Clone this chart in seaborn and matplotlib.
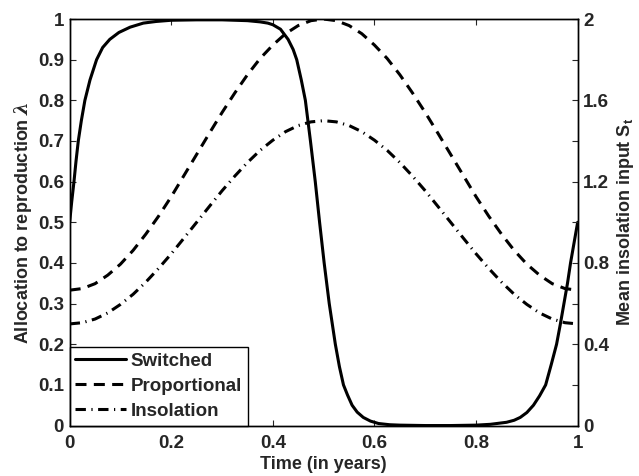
import matplotlib
matplotlib.use("Agg")
import matplotlib.pyplot as plt
import seaborn as sns

# values
t_switched = [0.0, 0.004, 0.0085, 0.0125, 0.017, 0.023, 0.030, 0.040, 0.053, 0.065,
              0.079, 0.097, 0.119, 0.145, 0.17, 0.20, 0.25, 0.30, 0.35, 0.375,
              0.39, 0.40, 0.415, 0.43, 0.44, 0.447, 0.456, 0.464, 0.474, 0.4835,
              0.492, 0.501, 0.511, 0.523, 0.531, 0.539, 0.547, 0.556, 0.566, 0.578,
              0.592, 0.608, 0.63, 0.65, 0.70, 0.75, 0.80, 0.828, 0.86, 0.875,
              0.887, 0.900, 0.913, 0.925, 0.937, 0.948, 0.9585, 0.966, 0.973, 0.980,
              0.986, 0.993, 1.0]
switched = [0.50, 0.55, 0.60, 0.65, 0.70, 0.75, 0.80, 0.85, 0.90, 0.93,
            0.95, 0.967, 0.98, 0.99, 0.994, 0.997, 0.998, 0.998, 0.996, 0.993,
            0.990, 0.986, 0.975, 0.95, 0.925, 0.90, 0.85, 0.80, 0.70, 0.60,
            0.50, 0.40, 0.30, 0.20, 0.145, 0.10, 0.075, 0.05, 0.033, 0.02,
            0.011, 0.005, 0.002, 0.001, 0.0, 0.0, 0.001, 0.003, 0.008, 0.013,
            0.02, 0.032, 0.05, 0.073, 0.10, 0.15, 0.20, 0.25, 0.30, 0.35,
            0.40, 0.45, 0.50]

t_smooth = [0.0, 0.025, 0.05, 0.075, 0.10, 0.125, 0.15, 0.175, 0.20, 0.225,
            0.25, 0.275, 0.30, 0.325, 0.35, 0.375, 0.40, 0.425, 0.45, 0.475,
            0.50, 0.525, 0.55, 0.575, 0.60, 0.625, 0.65, 0.675, 0.70, 0.725,
            0.75, 0.775, 0.80, 0.825, 0.85, 0.875, 0.90, 0.925, 0.95, 0.975, 1.0]
proportional = [0.333, 0.337, 0.349, 0.370, 0.397, 0.431, 0.471, 0.515, 0.563, 0.615,
                0.667, 0.719, 0.770, 0.818, 0.863, 0.903, 0.936, 0.964, 0.984, 0.996,
                1.000, 0.996, 0.984, 0.964, 0.936, 0.903, 0.863, 0.818, 0.770, 0.719,
                0.667, 0.615, 0.563, 0.515, 0.471, 0.431, 0.397, 0.370, 0.349, 0.337, 0.333]
insolation = [0.500, 0.506, 0.524, 0.554, 0.596, 0.646, 0.706, 0.773, 0.845, 0.922,
              1.000, 1.078, 1.155, 1.227, 1.294, 1.354, 1.404, 1.446, 1.476, 1.494,
              1.500, 1.494, 1.476, 1.446, 1.404, 1.354, 1.294, 1.227, 1.155, 1.078,
              1.000, 0.922, 0.845, 0.773, 0.706, 0.646, 0.596, 0.554, 0.524, 0.506, 0.500]

left_ticks = [0, 0.1, 0.2, 0.3, 0.4, 0.5, 0.6, 0.7, 0.8, 0.9, 1]
left_labels = ["0", "0.1", "0.2", "0.3", "0.4", "0.5", "0.6", "0.7", "0.8", "0.9", "1"]
right_ticks = [0, 0.2, 0.4, 0.6, 0.8, 1.0, 1.2, 1.4, 1.6, 1.8, 2.0]
right_labels = ["0", "", "0.4", "", "0.8", "", "1.2", "", "1.6", "", "2"]
x_ticks = [0, 0.2, 0.4, 0.6, 0.8, 1]
x_labels = ["0", "0.2", "0.4", "0.6", "0.8", "1"]

sns.set_style("ticks")
plt.rcParams["font.family"] = ["Liberation Sans", "DejaVu Sans"]
plt.rcParams["font.weight"] = "bold"
plt.rcParams["mathtext.fontset"] = "custom"
plt.rcParams["mathtext.rm"] = "Liberation Sans"
plt.rcParams["mathtext.bf"] = "Liberation Sans:bold"
plt.rcParams["mathtext.it"] = "DejaVu Serif:italic"
plt.rcParams["axes.linewidth"] = 1.0
plt.rcParams["xtick.direction"] = "in"
plt.rcParams["ytick.direction"] = "in"

fig = plt.figure(figsize=(6.39, 4.76), dpi=100)
ax = fig.add_axes([0.109, 0.106, 0.795, 0.854])
ax2 = ax.twinx()

sns.lineplot(x=t_switched, y=switched, ax=ax, color="black", lw=2.2,
             sort=False, label="Switched")
sns.lineplot(x=t_smooth, y=proportional, ax=ax, color="black", lw=2.2,
             sort=False, linestyle=(0, (3.6, 2.4)), label="Proportional")
sns.lineplot(x=t_smooth, y=insolation, ax=ax2, color="black", lw=2.2,
             sort=False, linestyle=(0, (3.4, 1.8, 0.4, 1.8)), label="Insolation")

ax.set_xlim(0, 1)
ax.set_ylim(0, 1)
ax2.set_ylim(0, 2)

ax.set_xticks(x_ticks)
ax.set_xticklabels(x_labels)
ax.set_yticks(left_ticks)
ax.set_yticklabels(left_labels)
ax2.set_yticks(right_ticks)
ax2.set_yticklabels(right_labels)

ax.tick_params(axis="x", labelsize=13.5, length=4, width=0.8, top=True, pad=7)
ax.tick_params(axis="y", labelsize=13.5, length=4, width=0.8, right=False, pad=4)
ax2.tick_params(axis="y", labelsize=13.5, length=4, width=0.8, pad=4)
for lab in ax.get_xticklabels() + ax.get_yticklabels() + ax2.get_yticklabels():
    lab.set_fontweight("bold")

ax.set_xlabel("Time (in years)", fontsize=13, fontweight="bold", labelpad=3)
ax.set_ylabel(r"Allocation to reproduction $\lambda$", fontsize=13, fontweight="bold", labelpad=3)
ax2.set_ylabel(r"Mean insolation input S$_\mathbf{t}$", fontsize=13, fontweight="bold", labelpad=4)

for s in ax.spines.values():
    s.set_visible(True)
    s.set_color("black")
for s in ax2.spines.values():
    s.set_color("black")

h1, l1 = ax.get_legend_handles_labels()
h2, l2 = ax2.get_legend_handles_labels()
if ax2.get_legend() is not None:
    ax2.get_legend().remove()
leg = ax.legend(h1 + h2, l1 + l2, loc="lower left", bbox_to_anchor=(0, 0),
                borderaxespad=0, fancybox=False, framealpha=1, edgecolor="black",
                prop={"size": 13.5, "weight": "bold"}, handlelength=2.7,
                handletextpad=0.25, labelspacing=0.42, borderpad=0.3)
leg.get_frame().set_linewidth(1.0)
leg.set_zorder(5)

fig.savefig("out.png", dpi=100)
